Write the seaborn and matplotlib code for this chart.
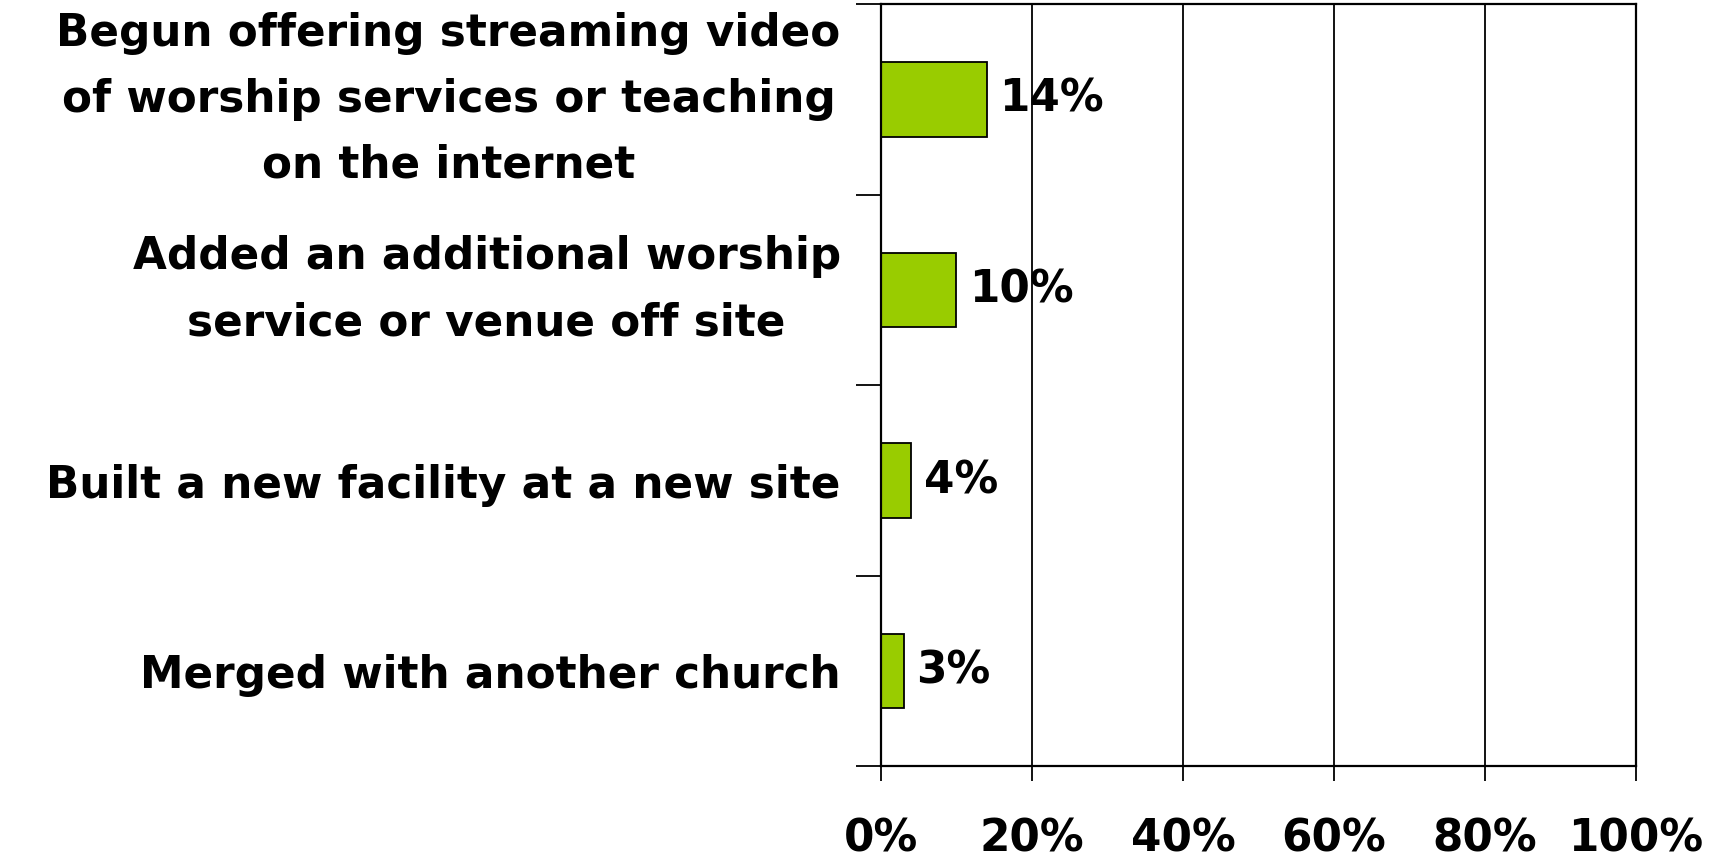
import numpy as np
import pandas as pd
import matplotlib
matplotlib.use("Agg")
import matplotlib.pyplot as plt
import seaborn as sns
from matplotlib.ticker import FixedLocator, PercentFormatter

categories = [
    "Begun offering streaming video\nof worship services or teaching\non the internet",
    "Added an additional worship\nservice or venue off site",
    "Built a new facility at a new site",
    "Merged with another church",
]
values = [14, 10, 4, 3]
value_labels = ["14%", "10%", "4%", "3%"]
x_ticks = [0, 20, 40, 60, 80, 100]

df = pd.DataFrame({"activity": categories, "pct": values})

sns.set_theme(style="white")
plt.rcParams["font.family"] = ["DejaVu Sans"]
plt.rcParams["font.weight"] = "bold"
plt.rcParams["text.color"] = "black"
plt.rcParams["xtick.color"] = "black"
plt.rcParams["ytick.color"] = "black"
plt.rcParams["xtick.labelcolor"] = "black"
plt.rcParams["ytick.labelcolor"] = "black"

fig = plt.figure(figsize=(17.13, 8.59), dpi=100)
ax = fig.add_axes([0.5143, 0.1077, 0.4407, 0.8876])

sns.barplot(data=df, x="pct", y="activity", orient="h", color="#99CC00",
            saturation=1, edgecolor="black", linewidth=1.3, width=0.39, ax=ax)

ax.set_xlim(0, 100)
ax.set_ylim(3.5, -0.5)
ax.set_xticks(x_ticks)
ax.xaxis.set_major_formatter(PercentFormatter(decimals=0))
ax.grid(axis="x", color="black", linewidth=1.3)
ax.set_axisbelow(True)
ax.set_xlabel("")
ax.set_ylabel("")

for s in ax.spines.values():
    s.set_color("black")
    s.set_linewidth(1.6)

# ticks between categories, labels at centres
ax.yaxis.set_minor_locator(FixedLocator(np.arange(-0.5, 4, 1)))
ax.tick_params(axis="y", which="minor", left=True, length=18, width=1.3, color="black", direction="out")
ax.tick_params(axis="y", which="major", length=0, pad=29, labelsize=31.5, labelcolor="black")
ax.tick_params(axis="x", which="major", bottom=True, length=11, width=1.3, color="black",
               direction="out", pad=26, labelsize=31.5, labelcolor="black")
for lab in ax.get_yticklabels():
    lab.set_multialignment("center")
    lab.set_fontweight("bold")
    lab.set_linespacing(1.68)
    if "\n" in lab.get_text():
        lab.set_verticalalignment("center")
for lab in ax.get_xticklabels():
    lab.set_fontweight("bold")

ax.bar_label(ax.containers[0], labels=value_labels, padding=9, fontsize=31.5,
             fontweight="bold", color="black")

fig.savefig("out.png", dpi=100)
